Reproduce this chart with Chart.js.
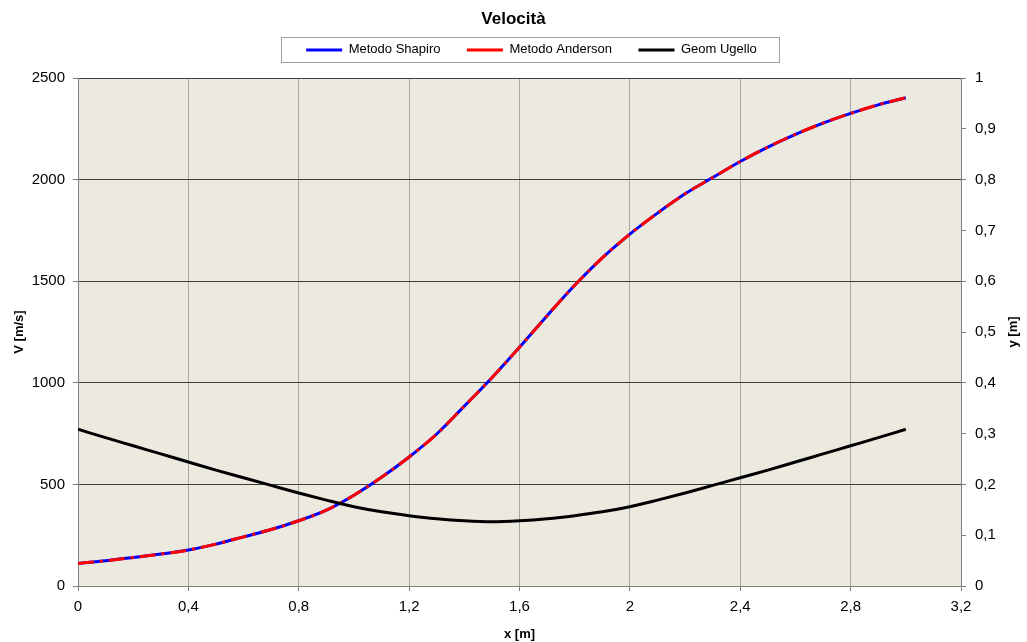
<!DOCTYPE html>
<html>
<head>
<meta charset="utf-8">
<script src="https://cdn.jsdelivr.net/npm/chart.js@4/dist/chart.umd.min.js"></script>
<style>
  body { margin: 0; background: #fff; }
  #wrap { width: 1027px; height: 642px; }
</style>
</head>
<body>
<div id="wrap"><canvas id="myChart"></canvas></div>
<script>
// x positions along the nozzle [m]
const xPos = [0, 0.1, 0.2, 0.3, 0.4, 0.5, 0.6, 0.7, 0.8, 0.9, 1.0, 1.1, 1.2, 1.3, 1.4, 1.5,
              1.6, 1.7, 1.8, 1.9, 2.0, 2.1, 2.2, 2.3, 2.4, 2.5, 2.6, 2.7, 2.8, 2.9, 3.0];

// velocity [m/s]
const vShapiro = [111, 124, 140, 157, 177, 206, 242, 278, 321, 373, 447, 535, 635, 748, 885, 1025,
                  1175, 1330, 1480, 1615, 1732, 1835, 1930, 2010, 2089, 2160, 2223, 2278, 2326, 2368, 2403];
const vAnderson = [111, 124, 140, 157, 177, 206, 242, 278, 321, 373, 447, 535, 635, 748, 885, 1025,
                   1175, 1330, 1480, 1615, 1732, 1835, 1930, 2010, 2089, 2160, 2223, 2278, 2326, 2368, 2403];

// nozzle geometry y [m] (right axis)
const yUgello = [0.3085, 0.292, 0.276, 0.260, 0.244, 0.228, 0.213, 0.198, 0.183, 0.169, 0.156, 0.146, 0.1385, 0.1325, 0.1285, 0.1266,
                 0.1285, 0.1325, 0.1385, 0.146, 0.156, 0.169, 0.183, 0.198, 0.213, 0.228, 0.244, 0.260, 0.276, 0.292, 0.3085];

const toPoints = (arr) => arr.map((v, i) => ({ x: xPos[i], y: v }));
const fmt = (v) => String(Math.round(v * 10) / 10).replace('.', ',');

Chart.defaults.font.family = '"Liberation Sans", Arial, sans-serif';
Chart.defaults.font.size = 15;
Chart.defaults.color = '#000';

// plot area background
const plotBg = {
    id: 'plotBg',
    beforeDraw(chart) {
        const a = chart.chartArea, ctx = chart.ctx;
        ctx.save();
        ctx.fillStyle = '#ECE9DF';
        ctx.fillRect(a.left, a.top, a.right - a.left, a.bottom - a.top);
        ctx.restore();
    }
};

// legend tweaks: extra room under it, shifted right, framed
const legendBox = {
    id: 'legendBox',
    beforeLayout(chart) {
        const lg = chart.legend;
        if (lg && !lg._patched) {
            const fit = lg.fit;
            lg.fit = function () { fit.call(this); this.height += 11.6; };
            lg._patched = true;
        }
    },
    afterLayout(chart) {
        chart.legend.left += 18;
        chart.legend.right += 18;
    },
    afterDraw(chart) {
        const boxes = chart.legend.legendHitBoxes;
        const ctx = chart.ctx;
        if (boxes && boxes.length) {
            let l = Infinity, r = -Infinity, t = Infinity, b = -Infinity;
            boxes.forEach(h => {
                l = Math.min(l, h.left); r = Math.max(r, h.left + h.width);
                t = Math.min(t, h.top); b = Math.max(b, h.top + h.height);
            });
            const cy = (t + b) / 2;
            ctx.save();
            ctx.strokeStyle = '#a0a0a0';
            ctx.lineWidth = 1;
            ctx.strokeRect(Math.round(l - 25) + 0.5, Math.round(cy - 12.5) + 0.5, Math.round(r - l + 47), 25);
            ctx.restore();
        }
        // right axis title, reading upward like the left one
        const a = chart.chartArea;
        ctx.save();
        ctx.translate(1013, (a.top + a.bottom) / 2);
        ctx.rotate(-Math.PI / 2);
        ctx.font = 'bold 13px "Liberation Sans", Arial, sans-serif';
        ctx.fillStyle = '#000';
        ctx.textAlign = 'center';
        ctx.textBaseline = 'middle';
        ctx.fillText('y [m]', 0, 0);
        ctx.restore();
    }
};

new Chart(document.getElementById('myChart').getContext('2d'), {
    type: 'line',
    data: {
        datasets: [{
            label: 'Metodo Shapiro',
            data: toPoints(vShapiro),
            borderColor: '#0000FF',
            backgroundColor: '#0000FF',
            borderWidth: 3,
            pointRadius: 0,
            cubicInterpolationMode: 'monotone',
            yAxisID: 'y',
            order: 2
        }, {
            label: 'Metodo Anderson',
            data: toPoints(vAnderson),
            borderColor: '#FF0000',
            backgroundColor: '#FF0000',
            borderWidth: 3,
            borderDash: [16, 6, 3, 6],
            pointRadius: 0,
            cubicInterpolationMode: 'monotone',
            yAxisID: 'y',
            order: 1
        }, {
            label: 'Geom Ugello',
            data: toPoints(yUgello),
            borderColor: '#000000',
            backgroundColor: '#000000',
            borderWidth: 3,
            pointRadius: 0,
            cubicInterpolationMode: 'monotone',
            yAxisID: 'y1',
            order: 0
        }]
    },
    options: {
        responsive: true,
        maintainAspectRatio: false,
        animation: false,
        layout: { padding: 0 },
        plugins: {
            title: {
                display: true,
                text: 'Velocità',
                font: { size: 17, weight: 'bold' },
                padding: { top: 9, bottom: 2 }
            },
            legend: {
                position: 'top',
                labels: {
                    boxWidth: 36,
                    boxHeight: 3,
                    padding: 12,
                    font: { size: 13 },
                    sort: (a, b) => a.datasetIndex - b.datasetIndex,
                    generateLabels(chart) {
                        const n = chart.data.datasets.length;
                        return chart.data.datasets.map((ds, i) => ({
                            text: i < n - 1 ? ds.label + '    ' : ds.label,
                            fillStyle: ds.borderColor,
                            strokeStyle: ds.borderColor,
                            lineWidth: 0,
                            lineDash: [],
                            hidden: false,
                            datasetIndex: i
                        }));
                    }
                }
            },
            tooltip: { enabled: false }
        },
        scales: {
            x: {
                type: 'linear',
                min: 0,
                max: 3.2,
                ticks: { stepSize: 0.4, callback: (v) => fmt(v), maxRotation: 0, padding: 7 },
                grid: { color: '#a8a8a8', tickColor: '#808080', tickLength: 5 },
                border: { color: '#808080' },
                title: { display: true, text: 'x [m]', font: { size: 13, weight: 'bold' }, padding: 0 },
                afterFit(s) { s.height = 56; }
            },
            y: {
                position: 'left',
                min: 0,
                max: 2500,
                ticks: { stepSize: 500, padding: 8, callback: (v) => String(v) },
                grid: { color: '#404040', tickColor: '#808080', tickLength: 5 },
                border: { color: '#808080' },
                title: { display: true, text: 'V [m/s]', font: { size: 13, weight: 'bold' }, padding: { top: 12, bottom: 0 } },
                afterFit(s) { s.width = 78; }
            },
            y1: {
                position: 'right',
                min: 0,
                max: 1,
                ticks: { stepSize: 0.1, callback: (v) => fmt(v), padding: 9 },
                grid: { drawOnChartArea: false, tickColor: '#808080', tickLength: 5 },
                border: { color: '#808080' },
                afterFit(s) { s.width = 66; }
            }
        }
    },
    plugins: [plotBg, legendBox]
});
</script>
</body>
</html>
